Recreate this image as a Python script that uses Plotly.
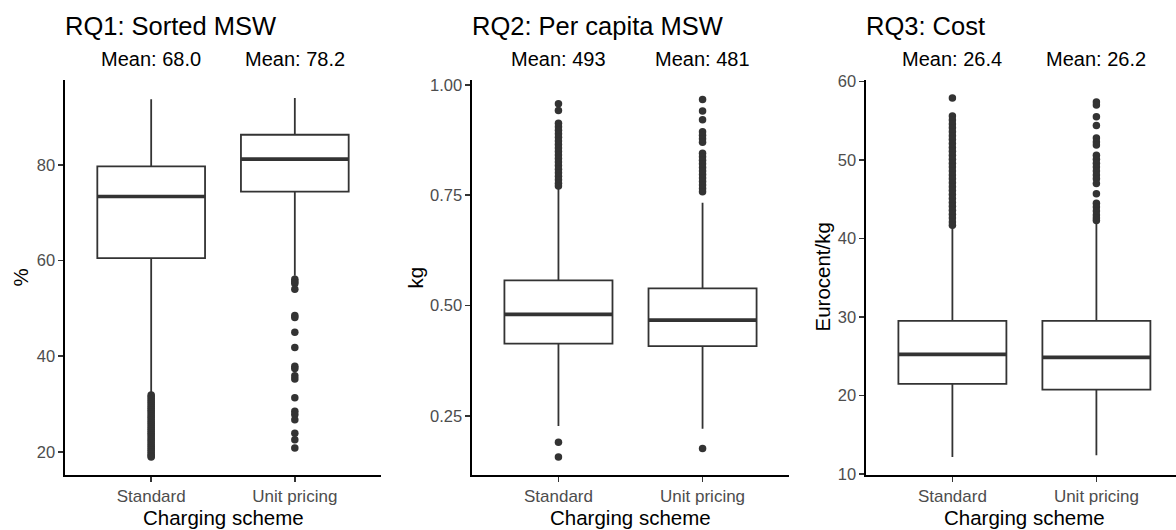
import plotly.graph_objects as go

# ---------------- data ----------------
categories = ["Standard", "Unit pricing"]
cat_pos = [1, 2]
panel_titles = ["RQ1: Sorted MSW", "RQ2: Per capita MSW", "RQ3: Cost"]
y_titles = ["%", "kg", "Eurocent/kg"]
x_title = "Charging scheme"
mean_labels = [["Mean: 68.0", "Mean: 78.2"],
               ["Mean: 493", "Mean: 481"],
               ["Mean: 26.4", "Mean: 26.2"]]

# RQ1: Sorted MSW (%)
rq1_q1 = [60.5, 74.4]
rq1_median = [73.4, 81.2]
rq1_q3 = [79.7, 86.3]
rq1_lower = [32.3, 56.8]
rq1_upper = [93.7, 94.0]
rq1_out_standard = [31.9, 31.5, 31.1, 30.7, 30.3, 29.9, 29.5, 29.1, 28.7, 28.3,
                    27.9, 27.5, 27.1, 26.7, 26.3, 25.9, 25.5, 25.1, 24.7, 24.3,
                    23.9, 23.5, 23.1, 22.7, 22.3, 21.9, 21.5, 21.1, 20.7, 20.3,
                    19.9, 19.5, 19.1, 18.9]
rq1_out_unit = [56.1, 55.6, 55.2, 54.0, 48.5, 48.1, 45.0, 41.8, 37.9, 37.4,
                35.9, 35.2, 31.3, 28.5, 27.8, 26.7, 23.9, 22.5, 20.8]

# RQ2: Per capita MSW (kg)
rq2_q1 = [0.4135, 0.408]
rq2_median = [0.480, 0.467]
rq2_q3 = [0.557, 0.539]
rq2_lower = [0.227, 0.221]
rq2_upper = [0.768, 0.733]
rq2_out_standard = [0.957, 0.942, 0.913, 0.905, 0.897, 0.889, 0.881, 0.873,
                    0.865, 0.857, 0.849, 0.841, 0.833, 0.825, 0.817, 0.809,
                    0.801, 0.793, 0.785, 0.777, 0.771, 0.190, 0.157]
rq2_out_unit = [0.967, 0.941, 0.921, 0.894, 0.886, 0.878, 0.870, 0.845, 0.837,
                0.829, 0.821, 0.813, 0.805, 0.797, 0.789, 0.781, 0.773, 0.765,
                0.758, 0.176]

# RQ3: Cost (Eurocent/kg)
rq3_q1 = [21.47, 20.74]
rq3_median = [25.24, 24.85]
rq3_q3 = [29.5, 29.5]
rq3_lower = [12.16, 12.38]
rq3_upper = [41.6, 42.5]
rq3_out_standard = [57.9, 55.6, 55.1, 54.6, 54.1, 53.6, 53.1, 52.6, 52.1, 51.6,
                    51.1, 50.6, 50.1, 49.6, 49.1, 48.6, 48.1, 47.6, 47.1, 46.6,
                    46.1, 45.6, 45.1, 44.6, 44.1, 43.6, 43.1, 42.6, 42.1, 41.7]
rq3_out_unit = [57.4, 57.0, 55.5, 54.4, 52.8, 52.3, 51.9, 50.6, 50.1, 49.6,
                49.1, 48.6, 48.1, 47.6, 47.0, 45.7, 44.5, 44.0, 43.5, 43.0,
                42.6, 42.3]

stats = [
    (rq1_q1, rq1_median, rq1_q3, rq1_lower, rq1_upper, [rq1_out_standard, rq1_out_unit]),
    (rq2_q1, rq2_median, rq2_q3, rq2_lower, rq2_upper, [rq2_out_standard, rq2_out_unit]),
    (rq3_q1, rq3_median, rq3_q3, rq3_lower, rq3_upper, [rq3_out_standard, rq3_out_unit]),
]

y_ranges = [[15.15, 97.75], [0.116, 1.011], [9.87, 60.19]]
y_tickvals = [[20, 40, 60, 80], [0.25, 0.50, 0.75, 1.00], [10, 20, 30, 40, 50, 60]]
y_ticktext = [["20", "40", "60", "80"], ["0.25", "0.50", "0.75", "1.00"],
              ["10", "20", "30", "40", "50", "60"]]

# ---------------- layout geometry ----------------
W, H = 1176, 530
x_domains_px = [(65, 381), (472, 789), (866, 1176)]
x_ranges = [[0.4, 2.6], [0.4, 2.6], [0.4, 0.4 + 310 / 144.0]]
PLOT_TOP, PLOT_BOTTOM = 80, 475
y_dom = [(H - PLOT_BOTTOM) / H, (H - PLOT_TOP) / H]
y_title_px = [20, 415, 822]

FONT = "Liberation Sans, Arial, sans-serif"
DARK = "#333333"
BOX_W = 0.75

fig = go.Figure()
annotations = []
layout_axes = {}

for i in range(3):
    xa = "x" if i == 0 else f"x{i+1}"
    ya = "y" if i == 0 else f"y{i+1}"
    q1, med, q3, lo, up, outs = stats[i]
    for j in range(2):
        fig.add_trace(go.Box(
            x=[cat_pos[j]], q1=[q1[j]], median=[med[j]], q3=[q3[j]],
            lowerfence=[lo[j]], upperfence=[up[j]],
            width=BOX_W, whiskerwidth=0, fillcolor="white",
            line=dict(color=DARK, width=1.8), boxpoints=False,
            xaxis=xa, yaxis=ya, showlegend=False, hoverinfo="skip"))
        # thicker median line (ggplot fatten)
        fig.add_trace(go.Scatter(
            x=[cat_pos[j] - BOX_W / 2, cat_pos[j] + BOX_W / 2], y=[med[j], med[j]],
            mode="lines", line=dict(color=DARK, width=3.6),
            xaxis=xa, yaxis=ya, showlegend=False, hoverinfo="skip"))
        fig.add_trace(go.Scatter(
            x=[cat_pos[j]] * len(outs[j]), y=outs[j], mode="markers",
            marker=dict(color=DARK, size=7.5),
            xaxis=xa, yaxis=ya, showlegend=False, hoverinfo="skip"))
        annotations.append(dict(
            x=cat_pos[j], y=(H - 59) / H, xref=xa, yref="paper",
            text=mean_labels[i][j], showarrow=False, xanchor="center", yanchor="middle",
            font=dict(family=FONT, size=20, color="black")))

    x0, x1 = x_domains_px[i]
    layout_axes["xaxis" if i == 0 else f"xaxis{i+1}"] = dict(
        domain=[x0 / W, x1 / W], range=x_ranges[i], anchor=ya, automargin=False,
        tickvals=cat_pos, ticktext=categories, showline=True, linecolor="black",
        linewidth=1.6, ticks="outside", ticklen=5, tickwidth=1.4, tickcolor=DARK,
        tickfont=dict(family=FONT, size=17, color="#4d4d4d"),
        showgrid=False, zeroline=False, fixedrange=True)
    layout_axes["yaxis" if i == 0 else f"yaxis{i+1}"] = dict(
        domain=y_dom, range=y_ranges[i], anchor=xa, automargin=False,
        tickvals=y_tickvals[i], ticktext=y_ticktext[i], showline=True,
        linecolor="black", linewidth=1.6, ticks="outside", ticklen=5,
        tickwidth=1.4, tickcolor=DARK,
        tickfont=dict(family=FONT, size=16.5, color="#4d4d4d"),
        showgrid=False, zeroline=False, fixedrange=True)

    # panel title
    annotations.append(dict(
        x=x0 / W, y=(H - 25.5) / H, xref="paper", yref="paper", text=panel_titles[i],
        showarrow=False, xanchor="left", yanchor="middle", xshift=-2,
        font=dict(family=FONT, size=25.5, color="black")))
    # x axis title
    annotations.append(dict(
        x=(x0 + (x0 + 317)) / 2 / W, y=(H - 517.5) / H, xref="paper", yref="paper",
        text=x_title, showarrow=False, xanchor="center", yanchor="middle",
        font=dict(family=FONT, size=20.5, color="black")))
    # y axis title
    annotations.append(dict(
        x=y_title_px[i] / W, y=(H - (PLOT_TOP + PLOT_BOTTOM) / 2) / H, xref="paper",
        yref="paper", text=y_titles[i], showarrow=False, xanchor="center",
        yanchor="middle", textangle=-90,
        font=dict(family=FONT, size=20.5, color="black")))

fig.update_layout(
    width=W, height=H, margin=dict(l=0, r=0, t=0, b=0, pad=0, autoexpand=False),
    paper_bgcolor="white", plot_bgcolor="white",
    annotations=annotations, **layout_axes)

fig.write_html(
    "out.html",
    config={"displayModeBar": False, "staticPlot": True},
    post_script=(
        "document.documentElement.style.overflow='hidden';"
        "document.body.style.margin='0';document.body.style.overflow='hidden';"
        "var gd=document.getElementsByClassName('plotly-graph-div')[0];"
        "gd.style.position='fixed';gd.style.top='0px';gd.style.left='0px';"
    ))
